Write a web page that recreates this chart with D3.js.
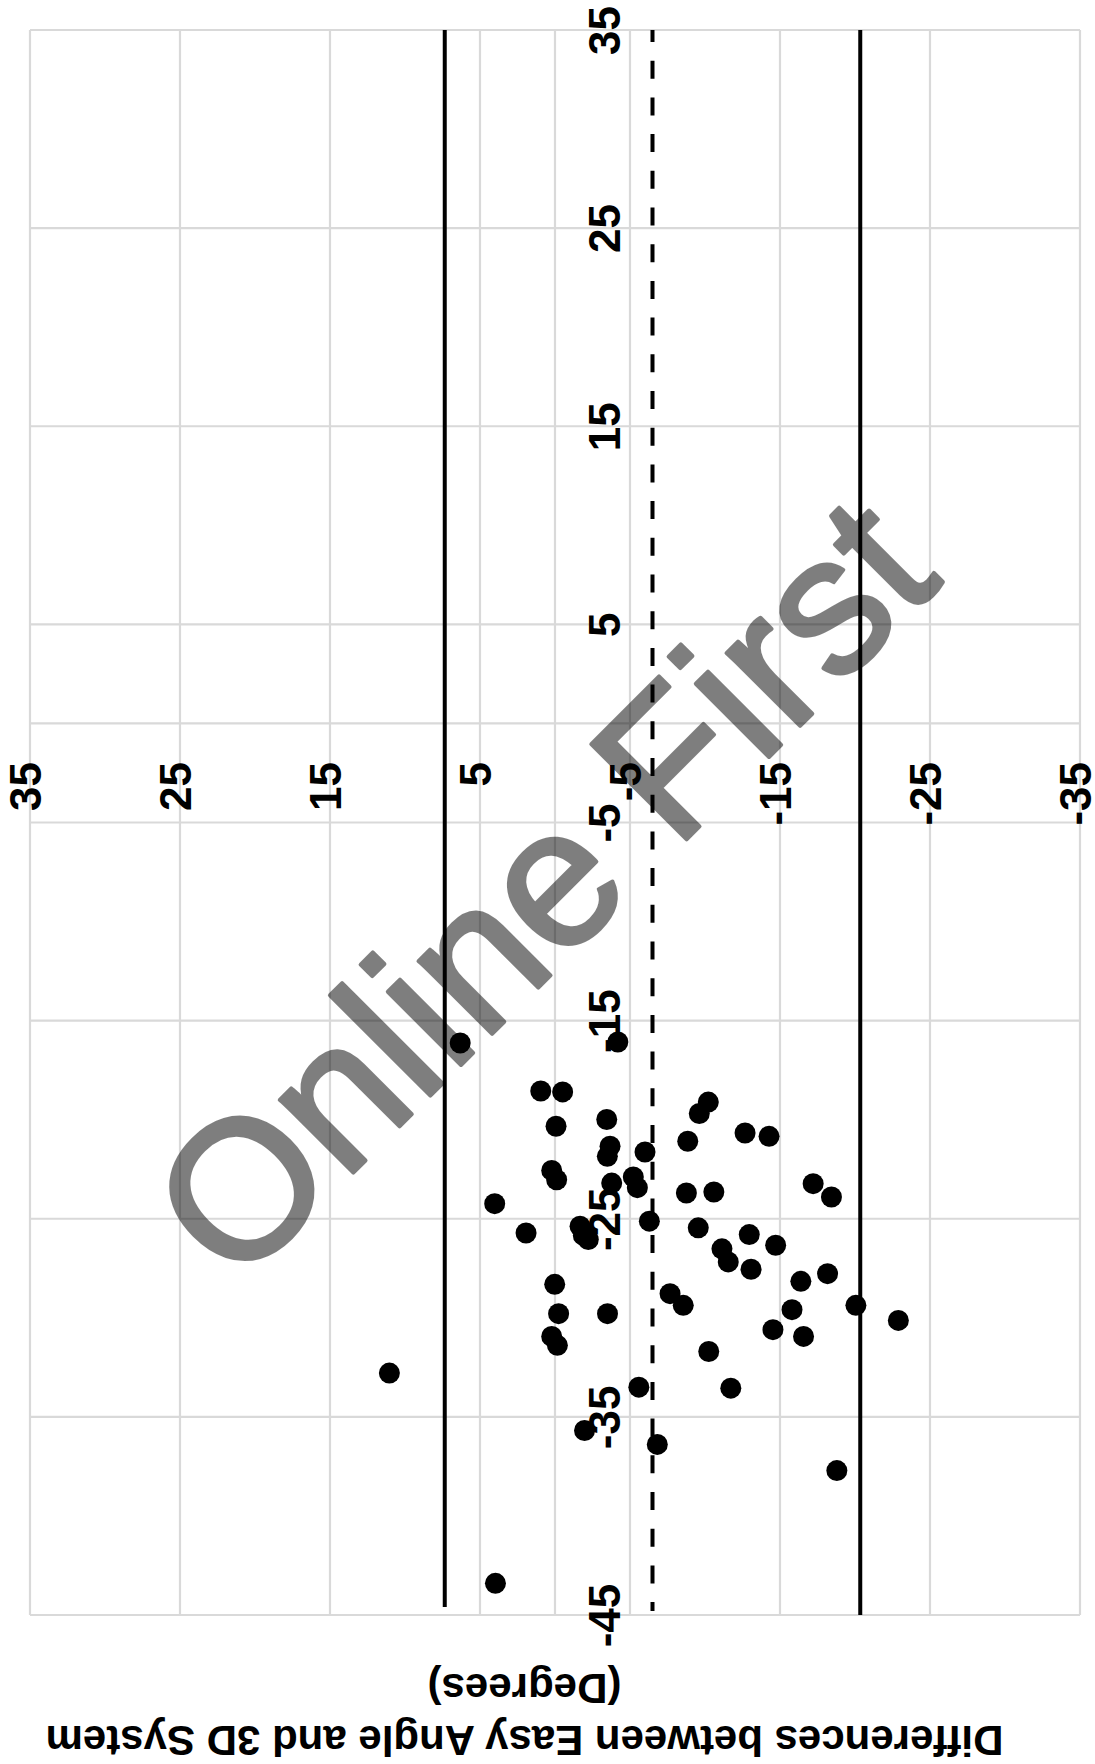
<!DOCTYPE html>
<html>
<head>
<meta charset="utf-8">
<script src="https://cdn.jsdelivr.net/npm/d3@7"></script>
<style>
    body { margin: 0; background: #ffffff; }
    #chart svg { display: block; }
</style>
</head>
<body>
<div id="chart"></div>
<script>
// Tick labels (horizontal axis = difference, vertical axis = mean)
const diffTicks = [35, 25, 15, 5, -5, -15, -25, -35];
const meanTicks = [35, 25, 15, 5, -5, -15, -25, -35, -45];

// Each point: difference and mean of the two measurements (degrees)
const diffValues = [
    6.32, -4.19, 0.95, -0.51, -10.22, -9.62, -0.07, -3.45, -12.67, -14.27,
    -8.85, -3.67, -3.49, -6.0, 0.22, -0.11, -5.22, -5.49, -3.78, -8.76,
    -10.59, -17.21, -18.43, 4.02, -6.29, 1.93, -1.67, -1.89, -2.22, -9.55,
    -12.95, -14.71, -11.13, -11.55, -13.07, 0.02, -18.17, -16.39, -7.67, -8.55,
    -0.24, -3.5, -20.06, -22.89, -15.8, -14.53, -16.57, 0.22, -0.16, -10.25,
    11.04, -5.59, -11.72, -1.97, -6.82, -18.79, 3.97
];
const meanValues = [
    -16.13, -16.08, -18.55, -18.6, -19.11, -19.69, -20.33, -19.99, -20.67, -20.84,
    -21.09, -21.34, -21.85, -21.63, -22.56, -23.03, -22.89, -23.43, -23.2, -23.7,
    -23.65, -23.23, -23.9, -24.24, -25.12, -25.72, -25.38, -25.84, -26.05, -25.46,
    -25.8, -26.34, -26.52, -27.18, -27.55, -28.31, -27.77, -28.16, -28.78, -29.37,
    -29.79, -29.79, -29.37, -30.13, -29.59, -30.6, -30.94, -30.94, -31.39, -31.7,
    -32.79, -33.5, -33.55, -35.69, -36.39, -37.71, -43.4
];

// Mean difference and limits of agreement, with the span each line covers
const refValues = [7.35, -6.5, -20.35];
const refDashed = [false, true, false];
const refStart = [35, 35, 35];
const refEnd = [-44.6, -44.8, -45];

const titleLines = ['Differences between Easy Angle and 3D System', '(Degrees)'];
const watermark = 'Online First';

const config = {
    width: 1095,
    height: 1764,
    plot: { left: 30, right: 1080, top: 30, bottom: 1615 },
    diffDomain: [35, -35],
    meanDomain: [35, -45],
    gridColor: '#d9d9d9',
    font: '"Liberation Sans", Arial, sans-serif',
    tickSize: 44,
    titleSize: 42
};

const svg = d3.select('#chart')
    .append('svg')
    .attr('width', config.width)
    .attr('height', config.height);

const x = d3.scaleLinear()
    .domain(config.diffDomain)
    .range([config.plot.left, config.plot.right]);

const y = d3.scaleLinear()
    .domain(config.meanDomain)
    .range([config.plot.top, config.plot.bottom]);

// Grid (ticks plus the zero axis lines)
const grid = svg.append('g').attr('class', 'grid');

grid.selectAll('.vgrid')
    .data(diffTicks.concat([0]))
    .enter()
    .append('line')
    .attr('x1', d => x(d))
    .attr('x2', d => x(d))
    .attr('y1', y(config.meanDomain[0]))
    .attr('y2', y(config.meanDomain[1]))
    .attr('stroke', config.gridColor)
    .attr('stroke-width', 2.2);

grid.selectAll('.hgrid')
    .data(meanTicks.concat([0]))
    .enter()
    .append('line')
    .attr('x1', x(config.diffDomain[0]))
    .attr('x2', x(config.diffDomain[1]))
    .attr('y1', d => y(d))
    .attr('y2', d => y(d))
    .attr('stroke', config.gridColor)
    .attr('stroke-width', 2.2);

// Difference axis labels, hanging below the mean = 0 line
const diffAxis = svg.append('g')
    .attr('class', 'diff-axis')
    .call(d3.axisBottom(x).tickValues(diffTicks).tickSize(0).tickFormat(d => String(d)));

diffAxis.select('.domain').remove();
diffAxis.selectAll('text')
    .attr('y', 0)
    .attr('dy', '0.3em')
    .attr('text-anchor', 'end')
    .attr('transform', 'translate(-3,762) rotate(-90)')
    .style('font-family', config.font)
    .style('font-size', config.tickSize + 'px')
    .style('font-weight', 'bold')
    .attr('fill', '#000');

// Mean axis labels, just right of the difference = 0 line
const meanAxis = svg.append('g')
    .attr('class', 'mean-axis')
    .call(d3.axisLeft(y).tickValues(meanTicks).tickSize(0).tickFormat(d => String(d)));

meanAxis.select('.domain').remove();
meanAxis.selectAll('text')
    .attr('x', 0)
    .attr('dy', 0)
    .attr('text-anchor', 'middle')
    .attr('transform', 'translate(620,0) rotate(-90)')
    .style('font-family', config.font)
    .style('font-size', config.tickSize + 'px')
    .style('font-weight', 'bold')
    .attr('fill', '#000');

// Reference lines
svg.append('g')
    .attr('class', 'ref-lines')
    .selectAll('line')
    .data(refValues)
    .enter()
    .append('line')
    .attr('x1', d => x(d))
    .attr('x2', d => x(d))
    .attr('y1', (d, i) => y(refStart[i]))
    .attr('y2', (d, i) => y(refEnd[i]))
    .attr('stroke', '#000')
    .attr('stroke-width', 4)
    .attr('stroke-dasharray', (d, i) => refDashed[i] ? '18 18.7' : null)
    .attr('stroke-dashoffset', (d, i) => refDashed[i] ? 6 : null);

// Points
svg.append('g')
    .attr('class', 'points')
    .selectAll('circle')
    .data(diffValues.map((d, i) => ({ diff: d, mean: meanValues[i] })))
    .enter()
    .append('circle')
    .attr('cx', d => x(d.diff))
    .attr('cy', d => y(d.mean))
    .attr('r', 10.5)
    .attr('fill', '#000');

// Axis title, printed upside down under the plot
const title = svg.append('g')
    .attr('transform', 'translate(524.5,1726) rotate(180)');

title.selectAll('text')
    .data(titleLines)
    .enter()
    .append('text')
    .attr('x', 0)
    .attr('y', (d, i) => i * 52)
    .attr('text-anchor', 'middle')
    .style('font-family', config.font)
    .style('font-size', config.titleSize + 'px')
    .style('font-weight', 'bold')
    .attr('fill', '#000')
    .text(d => d);

// Watermark across the plot (group opacity so the thickening stroke has no seams)
svg.append('g')
    .attr('opacity', 0.5)
    .append('text')
    .attr('transform', 'translate(236,1290) rotate(-45)')
    .style('font-family', config.font)
    .style('font-size', '196px')
    .attr('fill', '#000')
    .attr('stroke', '#000')
    .attr('stroke-width', 4)
    .attr('stroke-linejoin', 'round')
    .text(watermark);
</script>
</body>
</html>
